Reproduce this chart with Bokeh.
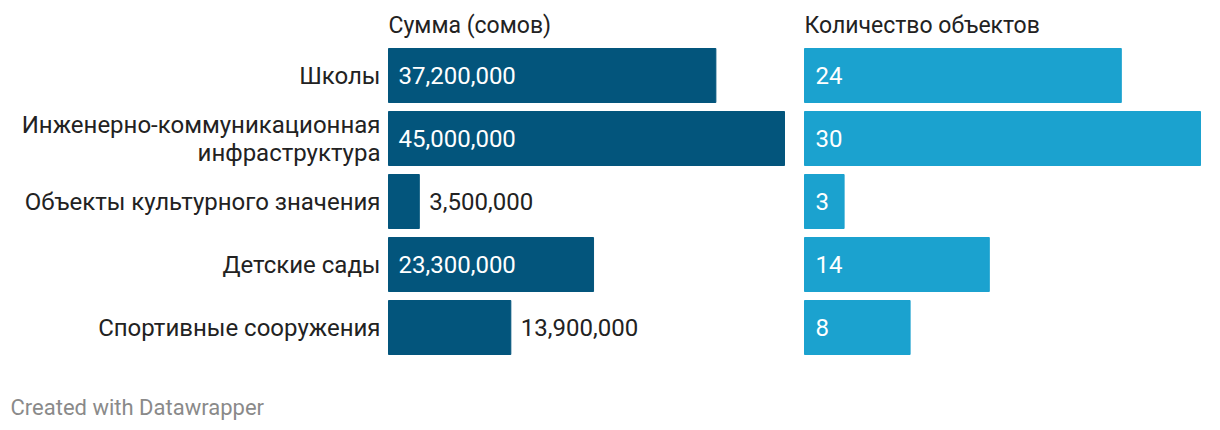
from bokeh.plotting import figure
from bokeh.models import Range1d, ColumnDataSource
from bokeh.core.properties import value
from bokeh.embed import file_html
from bokeh.resources import INLINE

categories = ["Школы", "Инженерно-коммуникационная\nинфраструктура",
              "Объекты культурного значения", "Детские сады", "Спортивные сооружения"]
amounts = [37200000, 45000000, 3500000, 23300000, 13900000]
counts = [24, 30, 3, 14, 8]
amount_labels = ["37,200,000", "45,000,000", "3,500,000", "23,300,000", "13,900,000"]
count_labels = ["24", "30", "3", "14", "8"]
titles = ["Сумма (сомов)", "Количество объектов"]

W, H = 1220, 430
FONT = value("Roboto")
FS = "24px"

# pixel layout
left_x0, left_w = 388, 396
right_x0, right_w = 804, 396
row0, row_step, bar_h_px = 75, 63, 54

amt_scale = left_w / max(amounts)      # px per unit
cnt_scale = right_w / max(counts)

p = figure(width=W, height=H, output_backend="svg", toolbar_location=None,
           x_range=Range1d(-left_x0 / amt_scale, (W - left_x0) / amt_scale),
           y_range=Range1d((H - row0) / row_step, -row0 / row_step),
           min_border=0, outline_line_color=None)
p.extra_x_ranges = {"cnt": Range1d(-right_x0 / cnt_scale, (W - right_x0) / cnt_scale)}
p.xaxis.visible = False
p.yaxis.visible = False
p.grid.visible = False
p.background_fill_color = "white"
p.border_fill_color = "white"

ys = list(range(len(categories)))
bh = bar_h_px / row_step

src = ColumnDataSource(dict(y=ys, amt=amounts, cnt=counts, cat=categories,
                            al=amount_labels, cl=count_labels))
p.hbar(y="y", left=0, right="amt", height=bh, color="#03557c", source=src)
p.hbar(y="y", left=0, right="cnt", height=bh, color="#1ba2cf", source=src, x_range_name="cnt")

# category labels
p.text(x=0, y="y", text="cat", source=src, x_offset=-8, text_align="right",
       text_baseline="middle", text_font=FONT, text_font_size=FS, text_color="#222222",
       text_line_height=1.0)

# amount labels: inside if they fit
ins = [i for i, v in enumerate(amounts) if v * amt_scale > 150]
out = [i for i in ys if i not in ins]
p.text(x=[0] * len(ins), y=[ys[i] for i in ins], text=[amount_labels[i] for i in ins],
       x_offset=10, text_align="left", text_baseline="middle", text_font=FONT,
       text_font_size=FS, text_color="white")
p.text(x=[amounts[i] for i in out], y=[ys[i] for i in out], text=[amount_labels[i] for i in out],
       x_offset=10, text_align="left", text_baseline="middle", text_font=FONT,
       text_font_size=FS, text_color="#222222")
p.text(x=0, y="y", text="cl", source=src, x_range_name="cnt", x_offset=11,
       text_align="left", text_baseline="middle", text_font=FONT,
       text_font_size=FS, text_color="white")

# panel titles
p.text(x=[0], y=[ys[0]], text=[titles[0]], y_offset=-50, text_align="left",
       text_baseline="middle", text_font=FONT, text_font_size="23px", text_color="#222222")
p.text(x=[0], y=[ys[0]], text=[titles[1]], y_offset=-50, x_range_name="cnt",
       text_align="left", text_baseline="middle", text_font=FONT, text_font_size="23px",
       text_color="#222222")

# footer
p.text(x=[0], y=[ys[-1]], text=["Created with Datawrapper"], x_offset=-378, y_offset=80,
       text_align="left", text_baseline="middle", text_font=FONT, text_font_size="22px",
       text_color="#8a8a8a")

open("out.html", "w").write(file_html(p, INLINE))
